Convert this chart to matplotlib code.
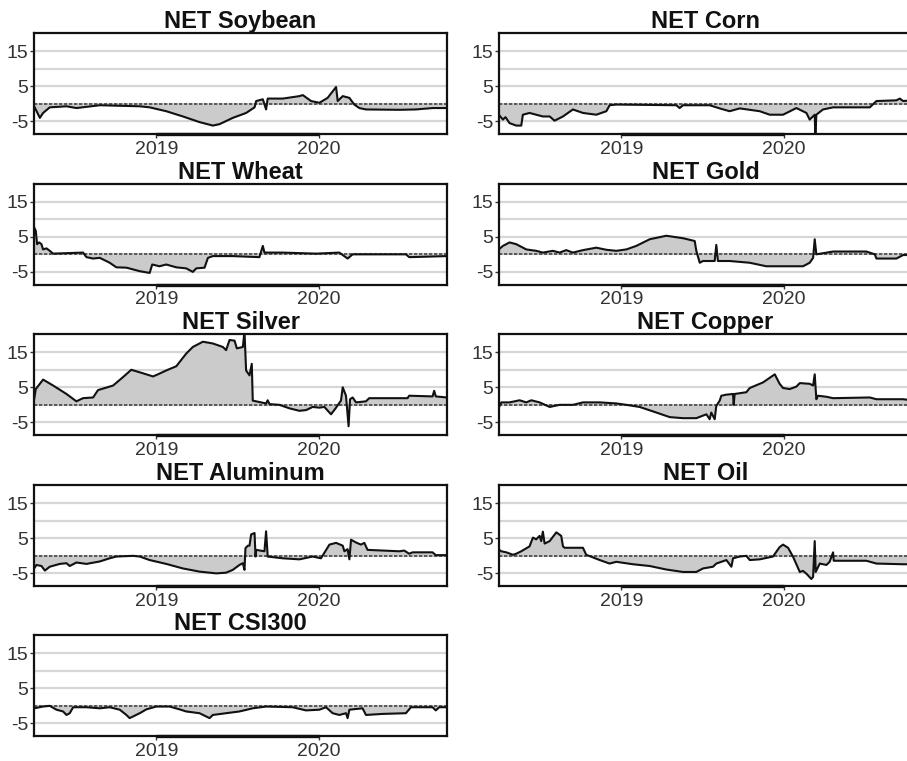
import matplotlib
matplotlib.use("Agg")
import matplotlib.pyplot as plt

plt.rcParams['font.family'] = ['Liberation Sans', 'DejaVu Sans']

# ---------------- data (decimal years, values) ----------------
soy_x = [2018.248, 2018.262, 2018.283, 2018.303, 2018.344, 2018.447, 2018.508, 2018.652, 2018.898, 2018.959,
         2019.061, 2019.164, 2019.266, 2019.348, 2019.389, 2019.471, 2019.553, 2019.605, 2019.615, 2019.656,
         2019.676, 2019.686, 2019.779, 2019.881, 2019.902, 2019.953, 2020.004, 2020.055, 2020.107, 2020.117,
         2020.148, 2020.189, 2020.219, 2020.250, 2020.291, 2020.496, 2020.598, 2020.701, 2020.789]
soy_y = [-0.7, -2.0, -4.0, -2.6, -1.0, -0.7, -1.2, -0.4, -0.7, -1.0,
         -2.1, -3.6, -5.2, -6.2, -5.8, -4.0, -2.6, -1.0, 0.8, 1.3,
         -1.6, 1.5, 1.5, 2.2, 2.5, 0.8, 0.3, 1.7, 4.8, 0.8,
         2.2, 1.7, -0.2, -1.2, -1.6, -1.7, -1.6, -1.2, -1.2]

corn_x = [2018.246, 2018.271, 2018.287, 2018.312, 2018.353, 2018.384, 2018.394, 2018.435, 2018.476, 2018.517,
          2018.559, 2018.589, 2018.641, 2018.702, 2018.764, 2018.846, 2018.908, 2018.928, 2018.969, 2019.339,
          2019.359, 2019.380, 2019.544, 2019.606, 2019.667, 2019.729, 2019.852, 2019.914, 2019.996, 2020.078,
          2020.140, 2020.160, 2020.191, 2020.195, 2020.201, 2020.242, 2020.304, 2020.530, 2020.571, 2020.694,
          2020.715, 2020.735, 2020.790]
corn_y = [-3.1, -4.5, -3.8, -5.5, -6.2, -6.2, -3.1, -2.6, -3.1, -3.6,
          -3.6, -4.8, -3.6, -1.6, -2.6, -3.1, -2.1, -0.4, -0.2, -0.4,
          -1.2, -0.4, -0.4, -1.3, -2.1, -1.3, -2.1, -3.1, -3.1, -1.2,
          -2.6, -4.5, -3.1, -9.0, -3.1, -1.6, -1.0, -1.0, 0.8, 1.0,
          1.5, 0.8, 1.0]

wheat_x = [2018.248, 2018.258, 2018.266, 2018.279, 2018.293, 2018.303, 2018.324, 2018.344, 2018.365, 2018.549,
           2018.570, 2018.611, 2018.652, 2018.713, 2018.754, 2018.816, 2018.898, 2018.959, 2018.975, 2019.020,
           2019.061, 2019.123, 2019.184, 2019.225, 2019.246, 2019.297, 2019.318, 2019.348, 2019.471, 2019.635,
           2019.656, 2019.666, 2019.779, 2019.984, 2020.127, 2020.178, 2020.209, 2020.537, 2020.557, 2020.789]
wheat_y = [7.7, 6.7, 2.9, 3.4, 2.9, 1.4, 1.7, 1.0, 0.2, 0.5,
           -0.8, -1.2, -1.0, -2.4, -3.7, -3.8, -4.8, -5.3, -2.9, -3.4,
           -2.9, -3.7, -4.0, -5.0, -4.0, -3.8, -1.0, -0.5, -0.5, -0.8,
           2.4, 0.5, 0.5, 0.2, 0.5, -1.2, 0.0, 0.0, -0.8, -0.5]

gold_x = [2018.246, 2018.271, 2018.312, 2018.353, 2018.415, 2018.476, 2018.517, 2018.579, 2018.620, 2018.661,
          2018.702, 2018.764, 2018.846, 2018.908, 2018.969, 2019.031, 2019.092, 2019.175, 2019.277, 2019.380,
          2019.452, 2019.462, 2019.483, 2019.503, 2019.575, 2019.585, 2019.595, 2019.667, 2019.791, 2019.893,
          2019.996, 2020.119, 2020.160, 2020.181, 2020.191, 2020.201, 2020.304, 2020.509, 2020.561, 2020.571,
          2020.694, 2020.735, 2020.790]
gold_y = [1.4, 2.4, 3.4, 2.9, 1.4, 1.0, 0.5, 1.0, 0.5, 1.2,
          0.5, 1.2, 1.9, 1.3, 1.0, 1.4, 2.4, 4.3, 5.3, 4.6,
          3.8, 1.0, -2.4, -1.9, -1.9, 2.7, -1.9, -1.9, -2.4, -3.4,
          -3.4, -3.4, -2.4, -1.0, 4.3, 0.0, 0.8, 0.8, 0.0, -1.2,
          -1.2, -0.2, -0.2]

silver_x = [2018.248, 2018.258, 2018.303, 2018.365, 2018.447, 2018.508, 2018.549, 2018.611, 2018.641, 2018.734,
            2018.795, 2018.846, 2018.918, 2018.980, 2019.010, 2019.061, 2019.123, 2019.184, 2019.225, 2019.287,
            2019.348, 2019.410, 2019.430, 2019.451, 2019.482, 2019.496, 2019.533, 2019.543, 2019.553, 2019.574,
            2019.588, 2019.594, 2019.676, 2019.686, 2019.697, 2019.758, 2019.820, 2019.881, 2019.922, 2019.963,
            2020.004, 2020.035, 2020.076, 2020.107, 2020.137, 2020.148, 2020.168, 2020.184, 2020.193, 2020.209,
            2020.230, 2020.291, 2020.311, 2020.547, 2020.557, 2020.701, 2020.711, 2020.721, 2020.789]
silver_y = [1.6, 4.5, 7.2, 5.5, 3.1, 1.0, 1.9, 2.1, 4.2, 5.5,
            7.9, 10.0, 9.0, 8.1, 8.7, 9.8, 11.0, 14.6, 16.5, 18.0,
            17.5, 16.5, 15.6, 18.5, 18.3, 16.1, 16.5, 21.0, 9.8, 8.4,
            11.7, 1.2, 0.4, 1.3, 0.2, 0.0, -1.0, -1.7, -1.5, -0.6,
            -0.8, -0.6, -2.7, -0.8, 1.2, 5.0, 2.6, -6.1, 1.6, 2.1,
            0.7, 1.0, 1.9, 1.9, 2.6, 2.4, 4.0, 2.4, 2.1]

copper_x = [2018.246, 2018.261, 2018.312, 2018.374, 2018.415, 2018.446, 2018.497, 2018.559, 2018.620, 2018.702,
            2018.764, 2018.867, 2018.969, 2019.031, 2019.113, 2019.216, 2019.298, 2019.380, 2019.462, 2019.524,
            2019.544, 2019.554, 2019.575, 2019.585, 2019.606, 2019.616, 2019.647, 2019.688, 2019.692, 2019.698,
            2019.770, 2019.791, 2019.873, 2019.945, 2019.975, 2019.996, 2020.037, 2020.078, 2020.099, 2020.160,
            2020.181, 2020.191, 2020.201, 2020.211, 2020.263, 2020.304, 2020.530, 2020.571, 2020.735, 2020.790]
copper_y = [-0.8, 0.7, 0.7, 1.3, 0.7, 1.3, 0.7, -0.6, 0.0, 0.0,
            0.7, 0.7, 0.4, 0.0, -0.6, -2.2, -3.5, -3.8, -3.8, -2.7,
            -4.1, -2.2, -4.1, -0.3, 1.2, 2.6, 2.9, 3.1, 0.0, 3.1,
            3.6, 4.8, 6.4, 8.7, 6.0, 4.8, 4.5, 5.2, 6.2, 6.0,
            5.5, 8.7, 1.6, 2.6, 2.3, 1.9, 2.1, 1.6, 1.6, 1.3]

alu_x = [2018.248, 2018.262, 2018.293, 2018.314, 2018.344, 2018.406, 2018.447, 2018.467, 2018.508, 2018.570,
         2018.652, 2018.713, 2018.754, 2018.857, 2018.898, 2018.959, 2019.061, 2019.164, 2019.266, 2019.369,
         2019.430, 2019.471, 2019.512, 2019.533, 2019.543, 2019.549, 2019.564, 2019.574, 2019.584, 2019.605,
         2019.611, 2019.615, 2019.666, 2019.676, 2019.686, 2019.779, 2019.881, 2019.963, 2020.014, 2020.066,
         2020.107, 2020.148, 2020.158, 2020.178, 2020.189, 2020.199, 2020.230, 2020.260, 2020.281, 2020.301,
         2020.496, 2020.527, 2020.557, 2020.578, 2020.701, 2020.721, 2020.789]
alu_y = [-3.6, -2.6, -2.9, -4.2, -3.1, -2.3, -2.1, -2.9, -1.9, -2.3,
         -1.6, -0.7, -0.2, 0.0, -0.2, -1.2, -2.3, -3.6, -4.5, -5.0,
         -4.8, -4.0, -2.6, -2.1, -4.0, 2.2, 2.9, 2.9, 6.1, 6.5,
         -0.2, 1.7, 1.3, 7.0, -0.2, -0.7, -1.0, -0.2, -0.7, 3.2,
         3.7, 2.9, 1.3, 1.9, -1.0, 4.6, 3.8, 3.2, 3.7, 1.7,
         1.3, 1.5, 0.6, 1.0, 1.0, 0.2, 0.2]

oil_x = [2018.246, 2018.261, 2018.292, 2018.333, 2018.353, 2018.384, 2018.435, 2018.456, 2018.476, 2018.497,
         2018.507, 2018.517, 2018.528, 2018.559, 2018.600, 2018.630, 2018.641, 2018.651, 2018.764, 2018.784,
         2018.867, 2018.928, 2018.969, 2019.072, 2019.175, 2019.277, 2019.380, 2019.462, 2019.503, 2019.565,
         2019.585, 2019.647, 2019.678, 2019.688, 2019.729, 2019.770, 2019.791, 2019.852, 2019.934, 2019.975,
         2019.996, 2020.027, 2020.057, 2020.099, 2020.119, 2020.140, 2020.170, 2020.181, 2020.191, 2020.197,
         2020.222, 2020.263, 2020.283, 2020.304, 2020.308, 2020.509, 2020.571, 2020.735, 2020.790]
oil_y = [1.8, 1.3, 1.0, 0.3, 0.6, 1.3, 2.7, 5.2, 4.7, 5.7,
         4.2, 6.9, 3.5, 4.2, 6.7, 5.7, 2.7, 2.3, 2.3, 0.3,
         -1.2, -2.2, -1.7, -2.4, -2.9, -3.9, -4.6, -4.6, -3.6, -3.1,
         -2.2, -1.2, -3.1, -0.7, -0.2, 0.0, -1.2, -1.0, -0.2, 2.5,
         3.2, 2.3, -0.2, -4.6, -4.3, -5.1, -6.6, -6.0, 4.2, -4.6,
         -2.2, -2.6, -1.7, 1.0, -1.4, -1.4, -2.2, -2.4, -2.4]

csi_x = [2018.248, 2018.303, 2018.344, 2018.385, 2018.426, 2018.447, 2018.467, 2018.488, 2018.570, 2018.652,
         2018.713, 2018.775, 2018.816, 2018.836, 2018.898, 2018.939, 2019.000, 2019.082, 2019.143, 2019.184,
         2019.266, 2019.328, 2019.348, 2019.430, 2019.512, 2019.594, 2019.676, 2019.840, 2019.922, 2020.004,
         2020.045, 2020.086, 2020.127, 2020.168, 2020.178, 2020.189, 2020.209, 2020.270, 2020.291, 2020.393,
         2020.537, 2020.568, 2020.701, 2020.721, 2020.742, 2020.789]
csi_y = [-0.7, -0.2, 0.0, -1.1, -1.6, -2.6, -2.1, -0.4, -0.4, -0.7,
         -0.4, -1.1, -2.6, -3.5, -2.1, -1.0, -0.2, -0.2, -1.0, -1.6,
         -2.1, -3.5, -2.6, -2.1, -1.6, -0.7, -0.2, -0.4, -1.3, -1.1,
         -0.4, -2.1, -2.6, -2.1, -3.5, -1.1, -1.0, -0.7, -2.6, -2.3,
         -2.1, -0.4, -0.4, -1.3, -0.4, -0.4]

titles = ["NET Soybean", "NET Corn", "NET Wheat", "NET Gold", "NET Silver",
          "NET Copper", "NET Aluminum", "NET Oil", "NET CSI300"]
series_x = [soy_x, corn_x, wheat_x, gold_x, silver_x, copper_x, alu_x, oil_x, csi_x]
series_y = [soy_y, corn_y, wheat_y, gold_y, silver_y, copper_y, alu_y, oil_y, csi_y]

x_ticks = [2019, 2020]
x_tick_labels = ["2019", "2020"]
y_ticks = [-5, 5, 15]
y_tick_labels = ["-5", "5", "15"]
grid_levels = [-5, 0, 5, 10, 15]

# ---------------- figure ----------------
W, H = 907, 761
fig = plt.figure(figsize=(W / 100, H / 100), dpi=100)

col_left = [34, 499]
ax_w = 413
row_top = [33, 183.5, 334, 485, 635]
ax_h = 101

for i, (title, xs, ys) in enumerate(zip(titles, series_x, series_y)):
    r, c = divmod(i, 2)
    left = col_left[c] / W
    bottom = 1 - (row_top[r] + ax_h) / H
    ax = fig.add_axes([left, bottom, ax_w / W, ax_h / H])
    ax.set_xlim(2018.247, 2020.79)
    ax.set_ylim(-8.6, 20.2)
    for g in grid_levels:
        ax.axhline(g, color='#d6d6d6', lw=1.6, zorder=0)
    ax.fill_between(xs, ys, 0, color='#cbcbcb', lw=0, zorder=1)
    ax.axhline(0, color='#444444', lw=1.2, ls=(0, (2, 1)), zorder=2)
    ax.plot(xs, ys, color='#111111', lw=1.5, zorder=3)
    # R-style axis line from first to last tick
    ax.plot(x_ticks, [0, 0], color='#111111', lw=2.4, solid_capstyle='butt',
            transform=ax.get_xaxis_transform(), clip_on=False, zorder=5)
    for s in ax.spines.values():
        s.set_linewidth(1.6)
        s.set_color('#111111')
    ax.set_xticks(x_ticks)
    ax.set_xticklabels(x_tick_labels)
    ax.set_yticks(y_ticks)
    ax.set_yticklabels(y_tick_labels)
    ax.tick_params(axis='both', length=3, width=1, colors='#333333',
                   labelsize=14, labelcolor='#333333')
    ax.tick_params(axis='y', pad=1)
    ax.tick_params(axis='x', pad=2)
    ax.set_title(title, fontsize=17, fontweight='bold', pad=1.5, color='#111111')

fig.savefig("out.png", dpi=100)
